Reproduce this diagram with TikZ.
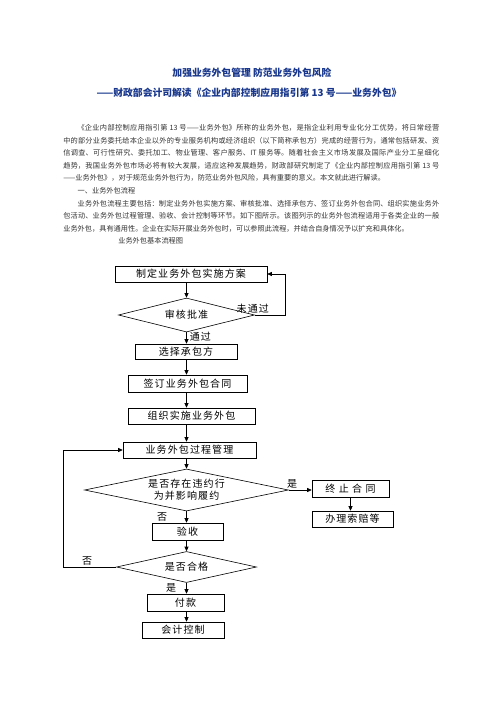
\documentclass[tikz,border=0pt]{standalone}
\usepackage{fontspec}
\setmainfont{Noto Sans CJK SC}
\newfontfamily\flowfont[LetterSpace=11]{Noto Sans CJK SC}
\usetikzlibrary{shapes.geometric,arrows.meta}
\XeTeXlinebreaklocale "zh"
\XeTeXlinebreakskip=0pt plus 1pt minus 0.2pt
\definecolor{titleblue}{RGB}{23,54,140}
\tikzset{
  box/.style={draw,rectangle,inner sep=0pt,font=\flowfont\fontsize{10}{12}\selectfont},
  decision/.style={draw,diamond,inner sep=0pt},
  arrow/.style={-{Triangle[length=4.5pt,width=4pt]}},
  tag/.style={font=\flowfont\fontsize{10}{12}\selectfont,inner sep=1pt}
}
\begin{document}
\begin{tikzpicture}[x=1pt,y=-1pt,line width=0.6pt]
\useasboundingbox (0,0) rectangle (496,702);
% heading
\node[font=\bfseries\fontsize{9.8}{12}\selectfont,text=titleblue] (biaoti) at (252,73) {加强业务外包管理 防范业务外包风险};
\node[font=\bfseries\fontsize{9.8}{12}\selectfont,text=titleblue] (fubiaoti) at (249,93) {——财政部会计司解读《企业内部控制应用指引第 13 号——业务外包》};
% body text
\node[anchor=base west,inner sep=0pt,text width=376pt,align=justify,text=black!80,font=\fontsize{7.2}{12.6}\selectfont] (zhengwen) at (63,130.5) {%
\hspace*{2em}《企业内部控制应用指引第 13 号——业务外包》所称的业务外包，是指企业利用专业化分工优势，将日常经营\linebreak
中的部分业务委托给本企业以外的专业服务机构或经济组织（以下简称承包方）完成的经营行为，通常包括研发、资\linebreak
信调查、可行性研究、委托加工、物业管理、客户服务、IT 服务等。随着社会主义市场发展及国际产业分工呈细化\linebreak
趋势，我国业务外包市场必将有较大发展，适应这种发展趋势，财政部研究制定了《企业内部控制应用指引第 13 号\linebreak
——业务外包》，对于规范业务外包行为，防范业务外包风险，具有重要的意义。本文就此进行解读。\par
\hspace*{2em}一、业务外包流程\par
\hspace*{2em}业务外包流程主要包括：制定业务外包实施方案、审核批准、选择承包方、签订业务外包合同、组织实施业务外\linebreak
包活动、业务外包过程管理、验收、会计控制等环节。如下图所示。该图列示的业务外包流程适用于各类企业的一般\linebreak
业务外包，具有通用性。企业在实际开展业务外包时，可以参照此流程，并结合自身情况予以扩充和具体化。\par
\hspace*{55pt}业务外包基本流程图};
% flow chart
\coordinate (zhou) at (186.5,0);
\node[box,minimum width=152pt,minimum height=16pt] (fangan) at (191,274) {制定业务外包实施方案};
\node[decision,minimum width=136pt,minimum height=34pt,label={[tag]center:审核批准}] (shenhe) at (186.5,315) {};
\node[box,minimum width=102pt,minimum height=15pt] (xuanze) at (186,351.5) {选择承包方};
\node[box,minimum width=119pt,minimum height=17pt] (qianding) at (187.5,383.5) {签订业务外包合同};
\node[box,minimum width=127pt,minimum height=16pt] (zuzhi) at (191.5,416) {组织实施业务外包};
\node[box,minimum width=133pt,minimum height=16pt] (guanli) at (189.5,450) {业务外包过程管理};
\node[decision,minimum width=204pt,minimum height=42pt,label={[tag,align=center]center:{是否存在违约行\\为并影响履约}}] (weiyue) at (186.5,490) {};
\node[box,minimum width=77pt,minimum height=17pt] (zhongzhi) at (350.5,488.5) {终 止 合 同};
\node[box,minimum width=81pt,minimum height=16pt] (suopei) at (352.5,519) {办理索赔等};
\node[box,minimum width=71pt,minimum height=17pt] (yanshou) at (187.5,531.5) {验收};
\node[decision,minimum width=140pt,minimum height=31pt,label={[tag]center:是否合格}] (hege) at (186.5,567) {};
\node[box,minimum width=77pt,minimum height=17pt] (fukuan) at (185.5,602.5) {付款};
\node[box,minimum width=82pt,minimum height=16pt] (kuaiji) at (183,630) {会计控制};
% connectors
\draw[arrow] (fangan.south -| zhou) -- (shenhe.north);
\draw[arrow] (shenhe.east) -- ++(30,0) node[tag,pos=0,above,xshift=-2pt] {未通过} |- (fangan.east);
\draw[arrow] (shenhe.south) -- (xuanze.north -| zhou) node[tag,midway,right,xshift=2pt,yshift=1pt] {通过};
\draw[arrow] (xuanze.south -| zhou) -- (qianding.north -| zhou);
\draw[arrow] (qianding.south -| zhou) -- (zuzhi.north -| zhou);
\draw[arrow] (zuzhi.south -| zhou) -- (guanli.north -| zhou);
\draw[arrow] (guanli.south -| zhou) -- (weiyue.north);
\draw[arrow] (weiyue.east) -- (weiyue.east -| zhongzhi.west) node[tag,pos=0.15,above] {是};
\draw[arrow] (zhongzhi.south) -- (zhongzhi.south |- suopei.north);
\draw[arrow] (weiyue.south) -- (yanshou.north -| zhou) node[tag,midway,left,xshift=-18pt] {否};
\draw[arrow] (yanshou.south -| zhou) -- (hege.north);
\draw[arrow] (hege.south) -- (fukuan.north -| zhou) node[tag,midway,left,xshift=-9pt] {是};
\draw[arrow] (fukuan.south -| zhou) -- (kuaiji.north -| zhou);
\draw[arrow] (hege.west) -- ++(-53,0) node[tag,pos=0.55,above] {否} |- (guanli.west);
\end{tikzpicture}
\end{document}
